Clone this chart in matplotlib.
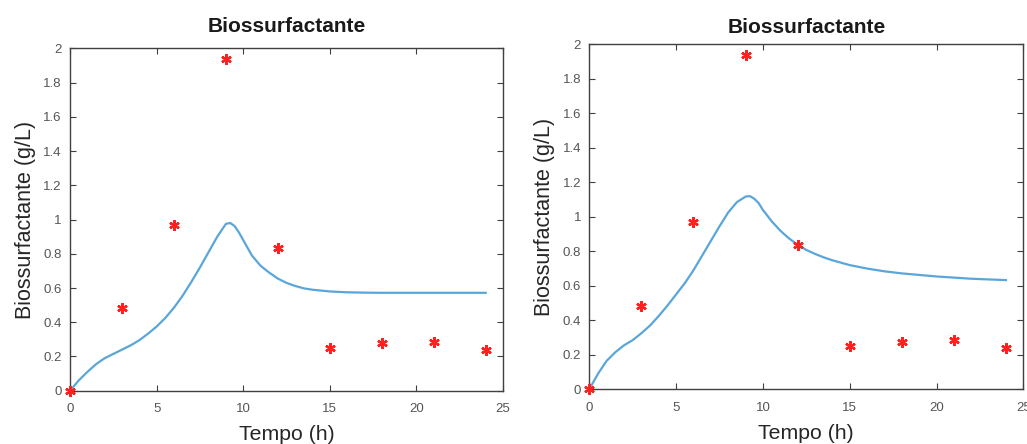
import matplotlib
matplotlib.use("Agg")
from matplotlib import pyplot as plt
from matplotlib.ticker import FuncFormatter

plt.rcParams['font.family'] = ['Liberation Sans', 'DejaVu Sans']

# experimental points (same in both panels)
t_exp = [0, 3, 6, 9, 12, 15, 18, 21, 24]
p_exp = [0, 0.485, 0.968, 1.937, 0.835, 0.25, 0.277, 0.283, 0.238]

# model time grid
t_model = [0, 0.5, 1, 1.5, 2, 2.5, 3, 3.5, 4, 4.5, 5, 5.5, 6, 6.5, 7, 7.5, 8, 8.5,
           9, 9.25, 9.5, 9.75, 10, 10.5, 11, 11.5, 12, 12.5, 13, 13.5, 14,
           15, 16, 17, 18, 20, 22, 24]

# model result, left panel
p_model_left = [0, 0.06, 0.11, 0.155, 0.19, 0.215, 0.24, 0.265, 0.295, 0.333, 0.375,
                0.425, 0.485, 0.555, 0.635, 0.72, 0.81, 0.9, 0.975, 0.98, 0.962,
                0.925, 0.88, 0.79, 0.73, 0.69, 0.655, 0.63, 0.612, 0.598, 0.59,
                0.58, 0.575, 0.573, 0.572, 0.572, 0.572, 0.572]

# model result, right panel
p_model_right = [0, 0.09, 0.165, 0.215, 0.255, 0.285, 0.325, 0.37, 0.425, 0.485, 0.55,
                 0.615, 0.69, 0.775, 0.86, 0.945, 1.025, 1.085, 1.117, 1.12, 1.105,
                 1.08, 1.04, 0.975, 0.92, 0.875, 0.838, 0.808, 0.785, 0.765, 0.748,
                 0.72, 0.7, 0.684, 0.672, 0.654, 0.641, 0.633]

x_ticks = [0, 5, 10, 15, 20, 25]
y_ticks = [0, 0.2, 0.4, 0.6, 0.8, 1, 1.2, 1.4, 1.6, 1.8, 2]

LINE_COLOR = '#5aa6da'
AXIS_COLOR = '#404040'


def matlab_fmt(v, pos):
    return ('%g' % round(v, 2))


# one panel in the MATLAB look
def draw_panel(ax, t_mod, p_mod, title_pad):
    ax.plot(t_mod, p_mod, color=LINE_COLOR, linewidth=1.6)
    ax.plot(t_exp, p_exp, linestyle='none', marker=(6, 2, 0), markersize=7.5,
            markeredgewidth=1.7, color='#ff2020', clip_on=False, zorder=3)
    ax.set_xlim(0, 25)
    ax.set_ylim(0, 2)
    ax.set_xticks(x_ticks)
    ax.set_yticks(y_ticks)
    ax.yaxis.set_major_formatter(FuncFormatter(matlab_fmt))
    ax.tick_params(direction='in', top=True, right=True, length=4, width=0.8,
                   labelsize=9.5, colors=AXIS_COLOR, labelcolor='#555555')
    ax.tick_params(axis='x', pad=9)
    ax.tick_params(axis='y', pad=6)
    for s in ax.spines.values():
        s.set_color(AXIS_COLOR)
        s.set_linewidth(1.0)
    ax.set_title("Biossurfactante", fontsize=15, fontweight='bold', color='#1a1a1a', pad=title_pad)
    ax.set_xlabel("Tempo (h)", fontsize=15.3, color='#262626', labelpad=7)
    ax.set_ylabel("Biossurfactante (g/L)", fontsize=15.5, color='#262626', labelpad=5.5)


fig = plt.figure(figsize=(10.27, 4.44), dpi=100)
ax1 = fig.add_axes([0.0682, 0.120, 0.4216, 0.771])
ax2 = fig.add_axes([0.5738, 0.1232, 0.4226, 0.777])

draw_panel(ax1, t_model, p_model_left, 12)
draw_panel(ax2, t_model, p_model_right, 8)

fig.savefig("out.png", dpi=100)
